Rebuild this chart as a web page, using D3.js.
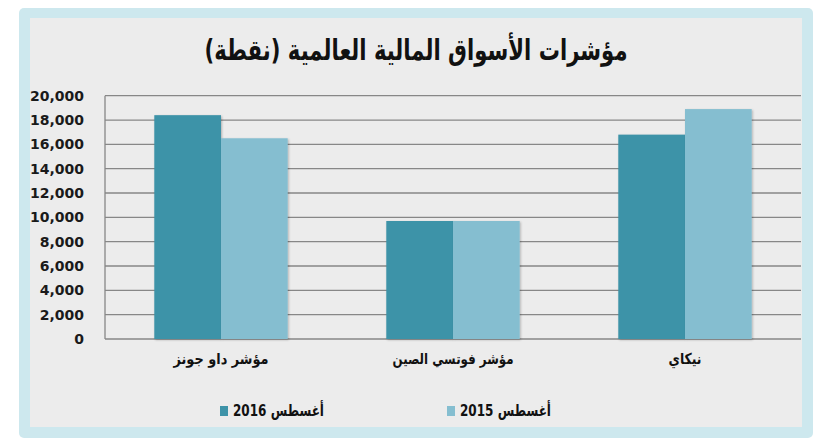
<!DOCTYPE html>
<html>
<head>
<meta charset="utf-8">
<script src="https://cdn.jsdelivr.net/npm/d3@7"></script>
<style>
  html, body { margin: 0; padding: 0; background: #ffffff; }
  svg { display: block; }
</style>
</head>
<body>
<svg id="chart" width="830" height="447"></svg>
<script>
const title = "مؤشرات الأسواق المالية العالمية (نقطة)";
const categories = ["مؤشر داو جونز", "مؤشر فوتسي الصين", "نيكاي"];
const seriesNames = ["أغسطس 2016", "أغسطس 2015"];
const values2016 = [18400, 9700, 16800];
const values2015 = [16500, 9700, 18900];
const yTicks = [0, 2000, 4000, 6000, 8000, 10000, 12000, 14000, 16000, 18000, 20000];

const colors = ["#3e93a8", "#85bed0"];
const series = [values2016, values2015];
const catLabelWidths = [95, 121, 33];

const svg = d3.select("#chart");

// frame
svg.append("rect").attr("x", 19).attr("y", 8).attr("width", 794).attr("height", 430)
  .attr("rx", 5).attr("fill", "#cde8ee");
svg.append("rect").attr("x", 30).attr("y", 18).attr("width", 772).attr("height", 409)
  .attr("fill", "#ececec");

const plotL = 105, plotR = 801, plotT = 95.7, plotB = 339;

const x = d3.scaleBand().domain(categories).range([plotL, plotR])
  .paddingInner(0.425).paddingOuter(0.2125);
const xs = d3.scaleBand().domain(seriesNames).range([0, x.bandwidth()]).padding(0);
const y = d3.scaleLinear().domain([0, 20000]).range([plotB, plotT]);

// gridlines
svg.append("g").selectAll("line").data(yTicks).join("line")
  .attr("x1", plotL).attr("x2", plotR)
  .attr("y1", d => y(d)).attr("y2", d => y(d))
  .attr("stroke", "#878787").attr("stroke-width", 1.3);
// y axis line
svg.append("line").attr("x1", plotL).attr("x2", plotL).attr("y1", y(20000)).attr("y2", y(0))
  .attr("stroke", "#878787").attr("stroke-width", 1.3);

// y tick labels
const fmt = d3.format(",");
svg.append("g").selectAll("text").data(yTicks).join("text")
  .attr("x", 84).attr("y", d => y(d)).attr("dy", "0.36em")
  .attr("text-anchor", "end")
  .attr("font-family", "DejaVu Sans, sans-serif").attr("font-weight", "bold")
  .attr("font-size", 14).attr("fill", "#1a1a1a")
  .text(d => fmt(d));

// shadow filter
const defs = svg.append("defs");
const f = defs.append("filter").attr("id", "sh").attr("x", "-10%").attr("y", "-10%").attr("width", "130%").attr("height", "120%");
f.append("feDropShadow").attr("dx", 1).attr("dy", 1).attr("stdDeviation", 1.2)
  .attr("flood-color", "#000").attr("flood-opacity", 0.25);

// bars
const g = svg.append("g");
categories.forEach((c, i) => {
  series.forEach((vals, s) => {
    g.append("rect")
      .attr("x", x(c) + xs(seriesNames[s]))
      .attr("y", y(vals[i]))
      .attr("width", xs.bandwidth())
      .attr("height", y(0) - y(vals[i]))
      .attr("fill", colors[s])
      .attr("filter", "url(#sh)");
  });
});

// category labels
svg.append("g").selectAll("text").data(categories).join("text")
  .attr("x", d => x(d) + x.bandwidth() / 2).attr("y", 364)
  .attr("text-anchor", "middle")
  .attr("font-family", "DejaVu Sans, sans-serif").attr("font-weight", "bold")
  .attr("font-size", 15).attr("fill", "#111")
  .attr("textLength", (d, i) => catLabelWidths[i])
  .attr("lengthAdjust", "spacingAndGlyphs")
  .text(d => d);

// title
svg.append("text").attr("x", 416).attr("y", 60).attr("text-anchor", "middle")
  .attr("font-family", "DejaVu Sans, sans-serif").attr("font-weight", "bold")
  .attr("font-size", 29).attr("fill", "#111")
  .attr("textLength", 423).attr("lengthAdjust", "spacingAndGlyphs")
  .text(title);

// legend
const legendX = [220, 447];
seriesNames.forEach((n, s) => {
  svg.append("rect").attr("x", legendX[s]).attr("y", 406).attr("width", 8).attr("height", 10)
    .attr("fill", colors[s]);
  svg.append("text").attr("x", legendX[s] + 13).attr("y", 416)
    .attr("font-family", "DejaVu Sans, sans-serif").attr("font-weight", "bold")
    .attr("font-size", 16).attr("fill", "#111")
    .attr("textLength", 91).attr("lengthAdjust", "spacingAndGlyphs")
    .text(n);
});
</script>
</body>
</html>
